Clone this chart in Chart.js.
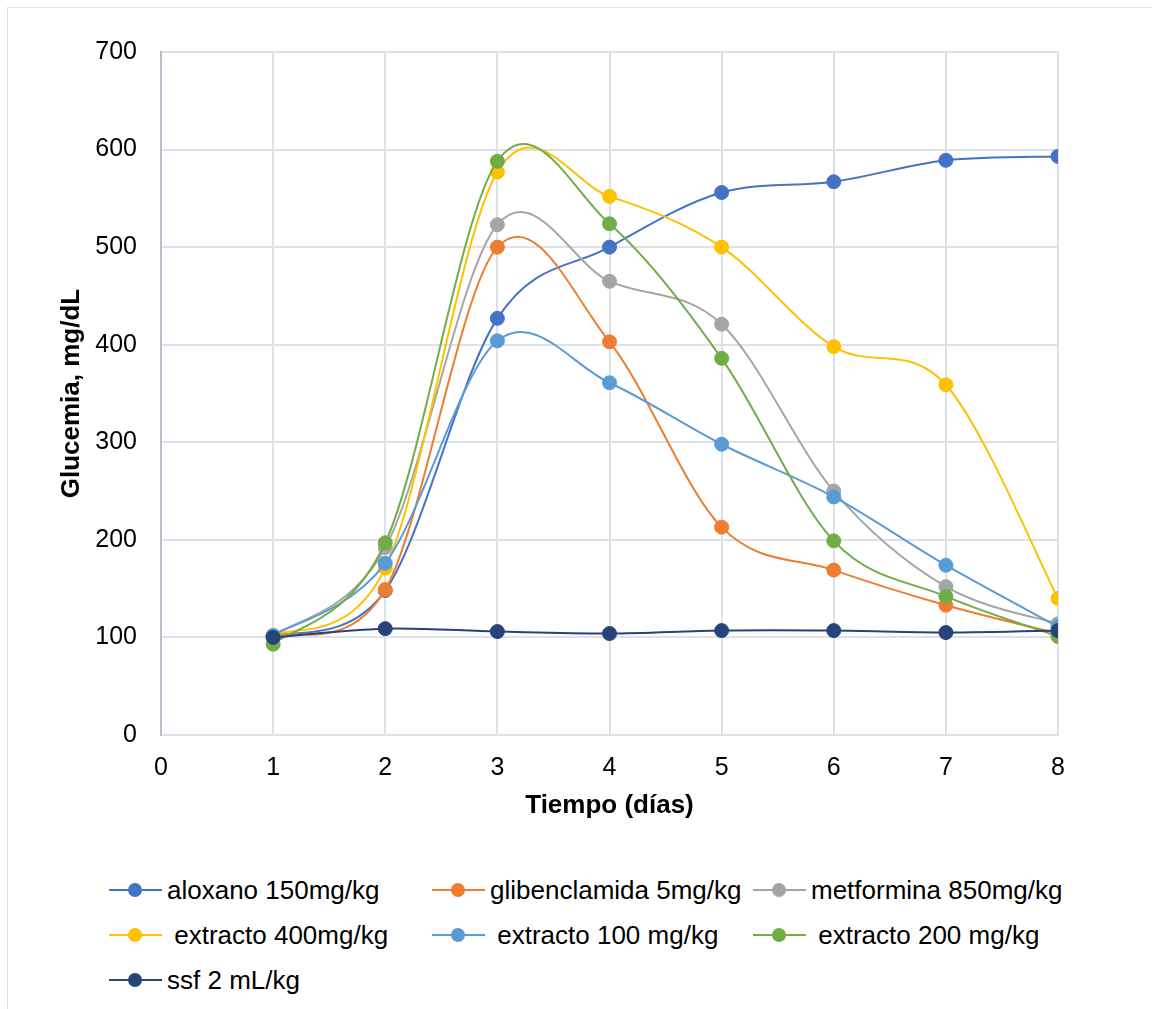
<!DOCTYPE html>
<html>
<head>
<meta charset="utf-8">
<script src="https://cdn.jsdelivr.net/npm/chart.js@4.4.1/dist/chart.umd.min.js"></script>
<style>
  body { margin: 0; background: #fff; font-family: "Liberation Sans", Arial, sans-serif; }
  #wrap { position: relative; width: 1152px; height: 1009px; overflow: hidden; }
  #frame { position: absolute; left: 7px; top: 7px; width: 1160px; height: 1010px; border-left: 1px solid #dcdfe4; border-top: 1px solid #dcdfe4; }
  #chart { position: absolute; left: 0; top: 0; }
  .leg { position: absolute; height: 30px; margin-top: -15px; font-size: 26px; color: #000; white-space: pre; }
  .leg .ln { position: absolute; left: 0; top: 14px; width: 53px; height: 2px; }
  .leg .dot { position: absolute; left: 19px; top: 8px; width: 14px; height: 14px; border-radius: 50%; }
  .leg .tx { position: absolute; left: 58px; top: 0; line-height: 30px; }
</style>
</head>
<body>
<div id="wrap">
  <div id="frame"></div>
  <canvas id="chart" width="1152" height="850"></canvas>
  <div id="legend"></div>
</div>
<script>
// Glucemia por día y tratamiento

const dias = [1, 2, 3, 4, 5, 6, 7, 8];
const yTicks = [0, 100, 200, 300, 400, 500, 600, 700];

const aloxano = [101, 148, 427, 500, 556, 567, 589, 593];
const glibenclamida = [102, 149, 500, 403, 213, 169, 133, 104];
const metformina = [102, 192, 523, 465, 421, 250, 152, 114];
const extracto400 = [102, 171, 577, 552, 500, 398, 359, 140];
const extracto100 = [102, 176, 404, 361, 298, 244, 174, 111];
const extracto200 = [93, 197, 588, 524, 386, 199, 142, 101];
const ssf = [100, 109, 106, 104, 107, 107, 105, 107];

const series = [
  { label: 'aloxano 150mg/kg', data: aloxano, color: '#4472C4' },
  { label: 'glibenclamida 5mg/kg', data: glibenclamida, color: '#ED7D31' },
  { label: 'metformina 850mg/kg', data: metformina, color: '#A5A5A5' },
  { label: ' extracto 400mg/kg', data: extracto400, color: '#FFC000' },
  { label: ' extracto 100 mg/kg', data: extracto100, color: '#5B9BD5' },
  { label: ' extracto 200 mg/kg', data: extracto200, color: '#70AD47' },
  { label: 'ssf 2 mL/kg', data: ssf, color: '#264478' }
];

const gridColor = '#dde1e8';
const axisColor = '#b7bfcc';

// suavizado tipo Excel (Catmull-Rom uniforme) en lugar del de Chart.js
const catmullRom = {
  id: 'catmullRom',
  beforeDatasetDraw(chart, args) {
    const pts = args.meta.data;
    const n = pts.length;
    for (let i = 0; i < n; i++) {
      const p = pts[i], a = pts[Math.max(i - 1, 0)], b = pts[Math.min(i + 1, n - 1)];
      const dx = (b.x - a.x) / 6, dy = (b.y - a.y) / 6;
      p.cp1x = p.x - dx; p.cp1y = p.y - dy;
      p.cp2x = p.x + dx; p.cp2y = p.y + dy;
    }
    args.meta.dataset._pointsUpdated = true;
  }
};

const datasets = series.map((s, i) => ({
  label: s.label,
  data: s.data.map((v, k) => ({ x: dias[k], y: v })),
  borderColor: s.color,
  backgroundColor: s.color,
  pointBackgroundColor: s.color,
  pointBorderColor: s.color,
  borderWidth: 2,
  pointRadius: 7,
  pointHoverRadius: 7,
  pointBorderWidth: 1,
  tension: 0.4,
  fill: false,
  order: series.length - i
}));

new Chart(document.getElementById('chart'), {
  type: 'line',
  data: { datasets },
  plugins: [catmullRom],
  options: {
    responsive: false,
    animation: false,
    layout: { padding: { top: 52, right: 94, bottom: 0, left: 0 } },
    plugins: { legend: { display: false }, tooltip: { enabled: false } },
    scales: {
      x: {
        type: 'linear',
        min: 0, max: 8,
        afterFit: s => { s.height = 115; },
        ticks: { stepSize: 1, color: '#000', padding: 18, font: { size: 25, family: 'Liberation Sans' } },
        grid: { drawTicks: false, color: c => (c.tick && c.tick.value === 0 ? axisColor : gridColor), lineWidth: 2 },
        border: { color: gridColor, width: 2 },
        title: { display: true, text: 'Tiempo (días)', color: '#000', padding: { top: 4, bottom: 29 }, font: { size: 26, weight: 'bold', family: 'Liberation Sans' } }
      },
      y: {
        min: 0, max: 700,
        afterFit: s => { s.width = 161; },
        afterBuildTicks: s => { s.ticks = yTicks.map(v => ({ value: v })); },
        ticks: { color: '#000', padding: 24, font: { size: 25, family: 'Liberation Sans' } },
        grid: { drawTicks: false, color: gridColor, lineWidth: 2 },
        border: { color: axisColor, width: 2 },
        title: { display: true, text: 'Glucemia, mg/dL', color: '#000', padding: { top: 56, bottom: 4 }, font: { size: 26, weight: 'bold', family: 'Liberation Sans' } }
      }
    }
  }
});

// leyenda en tres columnas, como en el original
const legCols = [109, 432, 753];
const legRows = [890, 935, 980];
document.getElementById('legend').innerHTML = series.map((s, i) => `
  <div class="leg" style="left:${legCols[i % 3]}px;top:${legRows[Math.floor(i / 3)]}px">
    <div class="ln" style="background:${s.color}"></div>
    <div class="dot" style="background:${s.color}"></div>
    <div class="tx">${s.label}</div>
  </div>`).join('');
</script>
</body>
</html>
